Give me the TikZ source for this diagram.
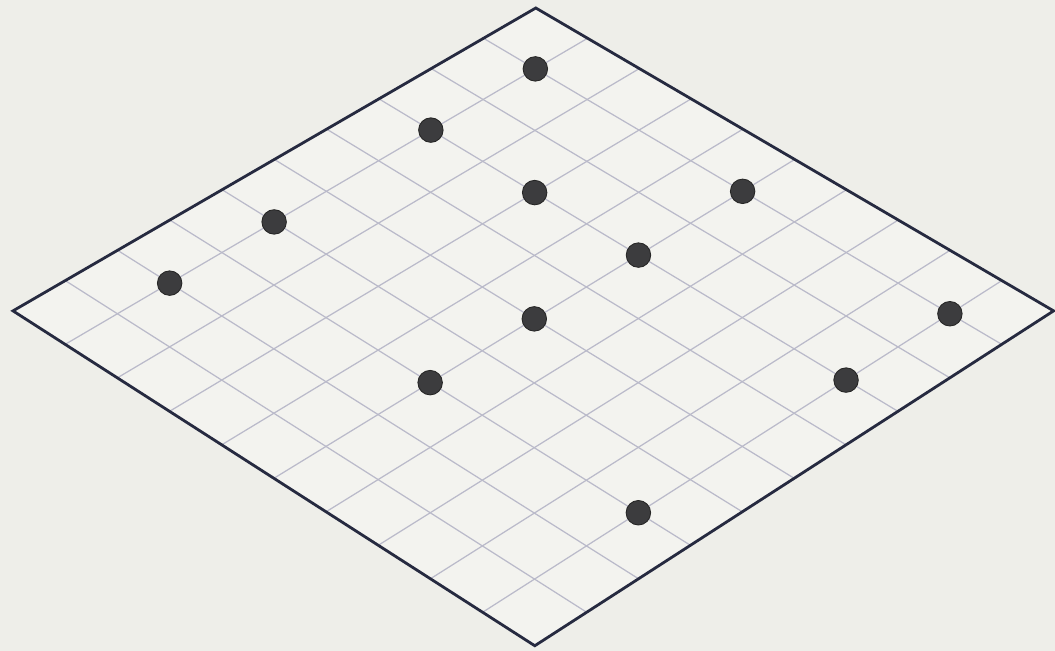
\documentclass[tikz,border=0pt]{standalone}
\usetikzlibrary{calc}
\definecolor{pagebg}{RGB}{238,238,233}
\definecolor{boardbg}{RGB}{243,243,239}
\definecolor{gridline}{RGB}{186,186,202}
\definecolor{rimline}{RGB}{38,42,64}
\definecolor{stonefill}{RGB}{60,60,62}
\tikzset{
    rim/.style={draw=rimline, line width=1.6pt, line join=miter},
    gridrule/.style={draw=gridline, line width=0.7pt},
    stone/.style={circle, fill=stonefill, draw=black!85, line width=0.5pt, minimum size=0.49cm, inner sep=0pt}
}

\begin{document}
\begin{tikzpicture}[x=0.02cm, y=-0.02cm]
    \fill[pagebg] (0,0) rectangle (1055,651);
    \coordinate (top) at (536,8);
    \coordinate (right) at (1054,311);
    \coordinate (bot) at (535,646);
    \coordinate (left) at (13,311);

    \fill[boardbg] (top) -- (right) -- (bot) -- (left) -- cycle;
    % grid, 10 x 10
    \foreach \k in {1,...,9} {
        \draw[gridrule] ($(top)!\k/10!(right)$) -- ($(left)!\k/10!(bot)$);
        \draw[gridrule] ($(top)!\k/10!(left)$) -- ($(right)!\k/10!(bot)$);
    }
    \draw[rim] (top) -- (right) -- (bot) -- (left) -- cycle;

    % stones at grid points (u along top-right, v along top-left)
    \foreach \u/\v in {1/1,1/3,3/3,1/6,5/1,5/3,1/8,5/5,9/1,5/7,9/3,9/7}
        \node[stone] (stone-\u-\v) at ($($(top)!\u/10!(right)$)!\v/10!($(left)!\u/10!(bot)$)$) {};
\end{tikzpicture}
\end{document}
